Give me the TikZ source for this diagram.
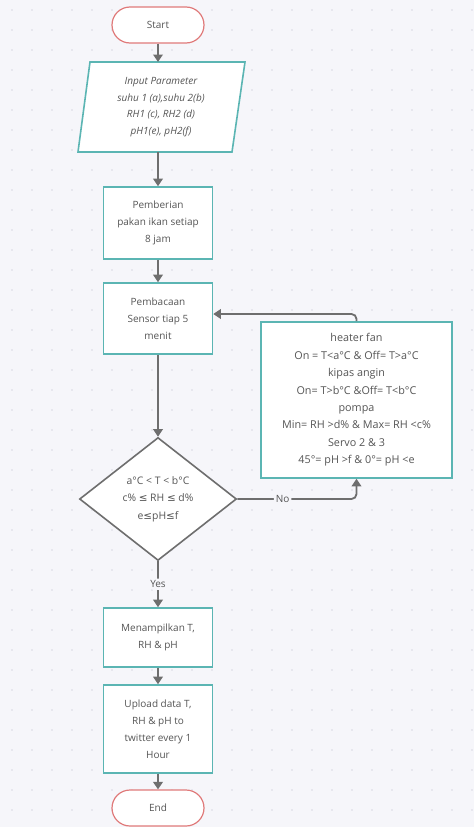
\documentclass[tikz,border=0pt]{standalone}
\usepackage{fontspec}
\setmainfont{Open Sans}
\newfontfamily\dv{DejaVu Sans}
\usetikzlibrary{arrows.meta,shapes.geometric,shapes.misc}
\definecolor{teal1}{HTML}{5BB5B3}
\definecolor{red1}{HTML}{E07A7A}
\definecolor{ln}{HTML}{6E6E6E}
\definecolor{tx}{HTML}{555555}
\definecolor{bg}{HTML}{F6F6FA}
\definecolor{dotc}{HTML}{D9D9E2}
\begin{document}
\begin{tikzpicture}[x=1pt,y=-1pt,
  font=\fontsize{10}{17}\selectfont, text=tx,
  proc/.style={draw=teal1, line width=1.6pt, fill=white, minimum width=109pt, align=center, inner sep=0pt},
  term/.style={draw=red1, line width=1.2pt, fill=white, rounded rectangle, minimum width=92pt, minimum height=36pt, inner sep=0pt},
  dec/.style={draw=ln, line width=1.6pt, fill=white, diamond, minimum width=157pt, minimum height=123pt, inner sep=0pt, align=center},
  arr/.style={draw=ln, line width=1.8pt, -{Triangle[width=9.5pt,length=7.5pt]}, rounded corners=5pt},
  lbl/.style={fill=bg, inner sep=2pt, text=tx}]
\fill[bg] (0,0) rectangle (474,827);
\useasboundingbox (0,0) rectangle (474,827);
\foreach \i in {12,32,...,472} {\foreach \j in {10,30,...,830} {\fill[dotc] (\i,\j) circle (0.8pt);}}

\node[term] (start) at (158,25) {Start};
\draw[draw=teal1, line width=1.6pt, fill=white] (90,62) -- (245,62) -- (232,152) -- (78,152) -- cycle;
\node[align=center, font=\itshape\fontsize{10}{16.7}\selectfont] (in) at (161,107) {Input Parameter\\suhu 1 (a),suhu 2(b)\\RH1 (c), RH2 (d)\\pH1(e), pH2(f)};
\coordinate (inT) at (158,62);
\coordinate (inB) at (158,152);
\node[proc, minimum height=72pt] (feed) at (158,223) {Pemberian\\pakan ikan setiap\\8 jam};
\node[proc, minimum height=71pt] (read) at (158,318.5) {Pembacaan\\Sensor tiap 5\\menit};
\node[proc, minimum width=191pt, minimum height=156pt, font=\fontsize{10.8}{17.4}\selectfont] (act) at (356.5,400) {heater fan\\On = T<a°C \& Off= T>a°C\\kipas angin\\On= T>b°C \&Off= T<b°C\\pompa\\Min= RH >d\% \& Max= RH <c\%\\Servo 2 \& 3\\45°= pH >f \& 0°= pH <e};
\node[dec, font=\fontsize{10.4}{17.5}\selectfont] (dec) at (158,499) {a°C < T < b°C\\c\% {\dv≤} RH {\dv≤} d\%\\e{\dv≤}pH{\dv≤}f};
\node[proc, minimum height=59pt] (show) at (158,637.5) {Menampilkan T,\\RH \& pH};
\node[proc, minimum height=88pt] (up) at (158,729) {Upload data T,\\RH \& pH to\\twitter every 1\\Hour};
\node[term] (end) at (158,808) {End};

\coordinate (fb) at (356.5,314);
\draw[arr] (start) -- (inT);
\draw[arr] (inB) -- (feed);
\draw[arr] (feed) -- (read);
\draw[arr] (read) -- (dec);
\draw[arr] (dec) -- node[lbl] {Yes} (show);
\draw[arr] (show) -- (up);
\draw[arr] (up) -- (end);
\draw[arr] (dec.east) -| node[lbl, pos=0.19] {No} (act.south);
\draw[arr] (act.north) -- (fb) -- (read.east |- fb);
\end{tikzpicture}
\end{document}
